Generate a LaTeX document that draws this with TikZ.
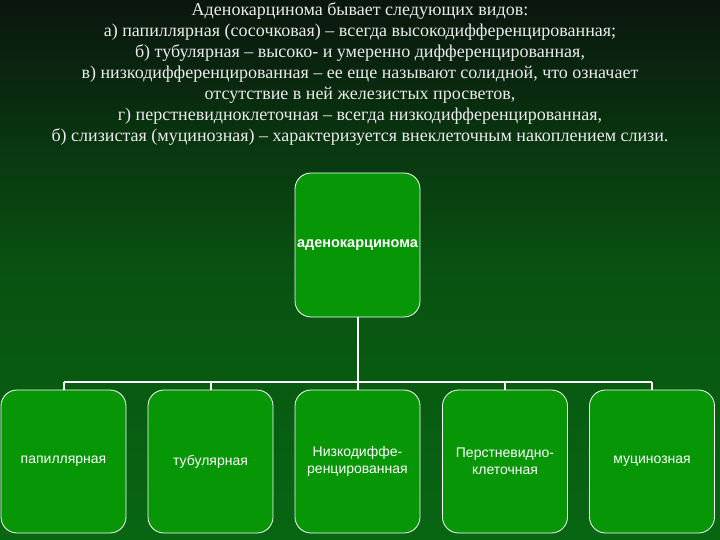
\documentclass[tikz,border=0pt]{standalone}
\usepackage{fontspec}
\setmainfont{Liberation Serif}
\setsansfont{Liberation Sans}
\usetikzlibrary{positioning}
\definecolor{bgtop}{RGB}{10,22,14}
\definecolor{bgbottom}{RGB}{8,102,18}
\definecolor{boxgreen}{RGB}{6,150,6}
\definecolor{textgrey}{RGB}{235,235,235}
\tikzset{
  kind/.style={draw=white, fill=boxgreen, rounded corners=16pt, line width=0.8pt,
    minimum width=125pt, minimum height=143pt, inner sep=2pt, align=center,
    text=white, font=\sffamily\fontsize{14}{17}\selectfont},
  link/.style={draw=white, line width=2pt}
}

\begin{document}
\begin{tikzpicture}[x=1pt, y=-1pt]
  \useasboundingbox (0,0) rectangle (720,540);
  \shade[top color=bgtop, bottom color=bgbottom, middle color=bgbottom!75!bgtop] (0,0) rectangle (720,540);

  \node[text=textgrey, align=center, font=\fontsize{18}{21}\selectfont] (title) at (360,74)
    {Аденокарцинома бывает следующих видов:\\
     а) папиллярная (сосочковая) -- всегда высокодифференцированная;\\
     б) тубулярная -- высоко- и умеренно дифференцированная,\\
     в) низкодифференцированная -- ее еще называют солидной, что означает\\
     отсутствие в ней железистых просветов,\\
     г) перстневидноклеточная -- всегда низкодифференцированная,\\
     б) слизистая (муцинозная) -- характеризуется внеклеточным накоплением слизи.};

  \node[kind, minimum height=144pt, font=\sffamily\bfseries\fontsize{14.5}{17}\selectfont] (main) at (357.5,245) {аденокарцинома};

  \node[kind] (papil) at (63.5,461.5) {папиллярная};
  \node[kind] (tubul) at (210.5,461.5) {тубулярная};
  \node[kind] (nizko) at (357.5,461.5) {Низкодиффе-\\ренцированная};
  \node[kind] (perst) at (505,461.5) {Перстневидно-\\клеточная};
  \node[kind] (mucin) at (652,461.5) {муцинозная};

  \coordinate (bus) at (357.5,382);
  \draw[link] (main.south) -- (bus);
  \draw[link] (papil.north |- bus) -- (mucin.north |- bus);
  \foreach \k in {papil,tubul,nizko,perst,mucin}
    \draw[link] (\k.north) -- (\k.north |- bus);
\end{tikzpicture}
\end{document}
